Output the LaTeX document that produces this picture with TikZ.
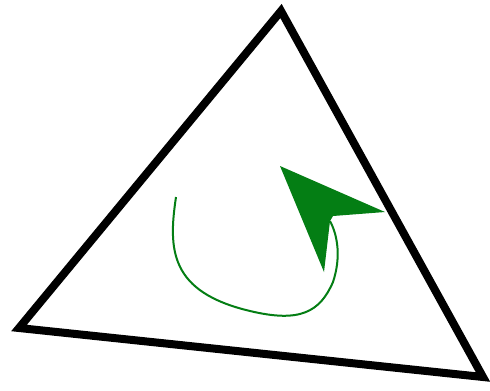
\documentclass[tikz,border=0pt]{standalone}
\usepackage{tikz}
\usepackage{xcolor}

\definecolor{arrowgreen}{RGB}{4,126,20}

\begin{document}
\begin{tikzpicture}[x=0.75pt,y=0.75pt,yscale=-1,xscale=1]
%set diagram left start at 0, and has height of 390
\path[use as bounding box] (0,0) rectangle (490,390);

\coordinate (top) at (281,11);
\coordinate (left) at (19,328);
\coordinate (right) at (483,377);

%Triangle
\draw [line width=6]  (top) -- (left) -- (right) -- cycle ;

%Curve Lines
\draw [color=arrowgreen ,draw opacity=1 ][line width=1.5]   (176,197) .. controls (168,250) and (170,292) .. (250,311) .. controls (300,323) and (320,312) .. (333,282) .. controls (341,258) and (338,236) .. (330,221) ;
%Arrow head
\fill [color=arrowgreen ]  (280,166) -- (385,212) -- (333,216) -- (330,221) -- (324,272) -- cycle ;

\end{tikzpicture}
\end{document}
